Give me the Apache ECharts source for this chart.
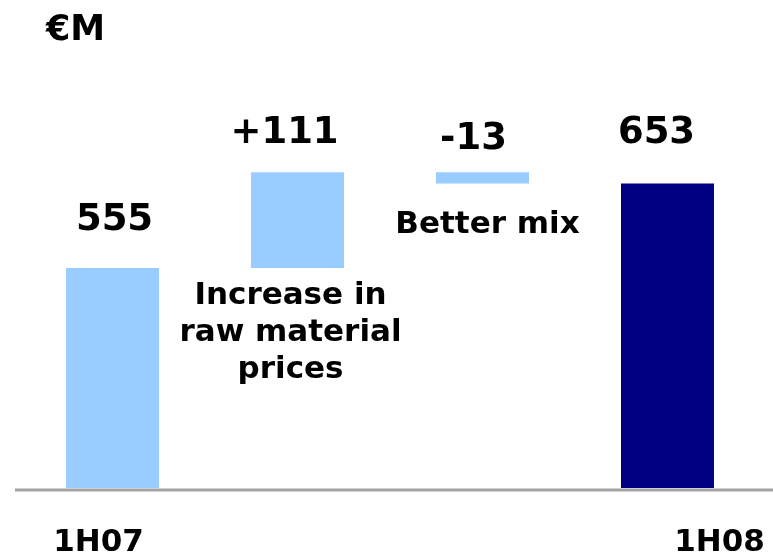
<!DOCTYPE html>
<html>
<head>
<meta charset="utf-8">
<script src="https://cdn.jsdelivr.net/npm/echarts@6/dist/echarts.min.js"></script>
<style>
  html, body { margin: 0; padding: 0; background: #ffffff; }
  #chart { width: 773px; height: 552px; }
</style>
</head>
<body>
<div id="chart"></div>
<script>
// Bridge from 1H07 to 1H08 (€M)
const categories = ['1H07', 'Increase in\nraw material\nprices', 'Better mix', '1H08'];
const startValue = 555;
const changes = [111, -13];
const endValue = 653;
const unitLabel = '€M';

// Waterfall pieces: an invisible base plus the visible segment
const baseValues = [0];
const segmentValues = [startValue];
const valueLabels = [String(startValue)];
let running = startValue;
changes.forEach(function (c) {
  const next = running + c;
  baseValues.push(Math.min(running, next));
  segmentValues.push(Math.abs(c));
  valueLabels.push((c > 0 ? '+' : '') + c);
  running = next;
});
baseValues.push(0);
segmentValues.push(endValue);
valueLabels.push(String(endValue));

const FONT = '"DejaVu Sans", Verdana, sans-serif';
const LIGHT = '#99ccff';
const DARK = '#000080';

// Per-bar label placement: distance above the bar and horizontal shift
const valueLabelLayout = [
  { distance: 29, dx: 2 },
  { distance: 20, dx: -13 },
  { distance: 14, dx: -9 },
  { distance: 32, dx: -11 }
];
// Category caption placement relative to each bar centre
const captionLayout = [
  { dx: -14, top: 524 },
  { dx: -7, top: 277 },
  { dx: 5, top: 206 },
  { dx: 52, top: 524 }
];

const segmentData = segmentValues.map(function (v, i) {
  return {
    value: v,
    itemStyle: { color: (i === segmentValues.length - 1) ? DARK : LIGHT },
    label: {
      show: true,
      position: 'top',
      distance: valueLabelLayout[i].distance,
      offset: [valueLabelLayout[i].dx, 0],
      formatter: valueLabels[i],
      fontFamily: FONT,
      fontWeight: 'bold',
      fontSize: 37,
      lineHeight: 37,
      color: '#000000'
    }
  };
});

const chart = echarts.init(document.getElementById('chart'), null, { renderer: 'canvas' });

chart.setOption({
  animation: false,
  backgroundColor: '#ffffff',
  grid: { left: 20, right: 13, top: 143, bottom: 64 },
  xAxis: {
    type: 'category',
    data: categories,
    axisLine: { show: false },
    axisTick: { show: false },
    axisLabel: { show: false },
    splitLine: { show: false }
  },
  yAxis: {
    type: 'value',
    min: 300,
    max: 700,
    show: false,
    splitLine: { show: false }
  },
  series: [
    {
      name: 'base',
      type: 'bar',
      stack: 'bridge',
      barWidth: 93,
      silent: true,
      itemStyle: { color: 'transparent' },
      data: baseValues
    },
    {
      name: 'change',
      type: 'bar',
      stack: 'bridge',
      barWidth: 93,
      silent: true,
      data: segmentData
    }
  ]
});

// Captions and baseline, placed from the axis positions of each category
const graphics = [];
categories.forEach(function (name, i) {
  const pt = chart.convertToPixel({ xAxisIndex: 0 }, name);
  graphics.push({
    type: 'text',
    silent: true,
    style: {
      text: name,
      x: pt + captionLayout[i].dx,
      y: captionLayout[i].top,
      align: 'center',
      verticalAlign: 'top',
      font: 'bold 31px ' + FONT,
      lineHeight: 37,
      fill: '#000000'
    }
  });
});
graphics.push({
  type: 'text',
  silent: true,
  style: {
    text: unitLabel,
    x: 46,
    y: 11,
    verticalAlign: 'top',
    font: 'bold 35px ' + FONT,
    lineHeight: 40,
    fill: '#000000'
  }
});
const axisY = chart.convertToPixel({ yAxisIndex: 0 }, 300) + 2;
graphics.push({
  type: 'line',
  silent: true,
  shape: { x1: 15, y1: axisY, x2: 773, y2: axisY },
  style: { stroke: '#a4a4a4', lineWidth: 3 }
});

chart.setOption({ graphic: graphics });
</script>
</body>
</html>
